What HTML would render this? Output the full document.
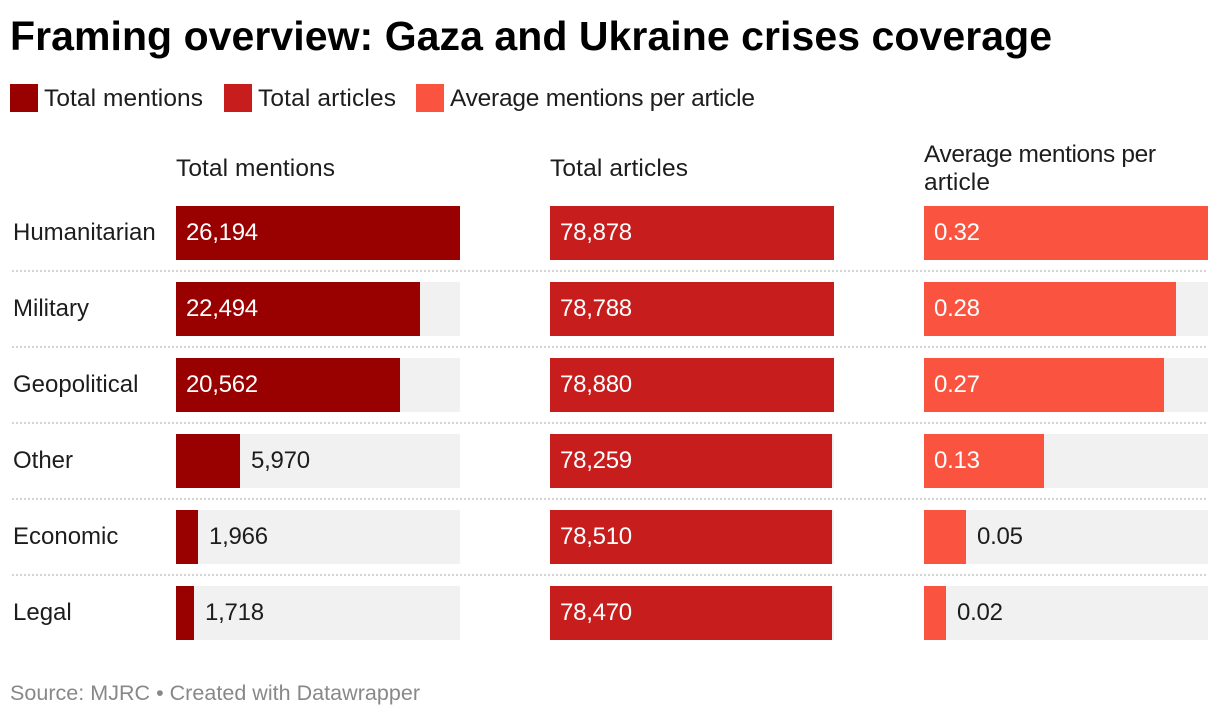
<!DOCTYPE html>
<html lang="en">
<head>
<meta charset="utf-8">
<title>Framing overview: Gaza and Ukraine crises coverage</title>
<style>
  html, body { margin: 0; padding: 0; background: #fff; }
  body { width: 1220px; height: 716px; overflow: hidden; }
  svg { display: block; font-family: "Liberation Sans", Arial, sans-serif; }
  text { fill: #1d1d1d; font-size: 24px; }
  .static-label { font-size: 24.5px; }
  .value-label { letter-spacing: -0.25px; }
</style>
</head>
<body>
<svg id="chart" xmlns="http://www.w3.org/2000/svg" width="1220" height="716" viewBox="0 0 1220 716">
  <text x="10" y="50" textLength="1042" lengthAdjust="spacing" style="font-size:41px;font-weight:700;fill:#000">Framing overview: Gaza and Ukraine crises coverage</text>

  <g>
    <g>
      <rect x="10" y="84" width="28" height="28" fill="#990000"></rect>
      <text class="static-label" x="44" y="106" textLength="159" lengthAdjust="spacing">Total mentions</text>
    </g>
    <g>
      <rect x="224" y="84" width="28" height="28" fill="#c71e1d"></rect>
      <text class="static-label" x="258" y="106" textLength="138" lengthAdjust="spacing">Total articles</text>
    </g>
    <g>
      <rect x="416" y="84" width="28" height="28" fill="#fa5441"></rect>
      <text class="static-label" x="450" y="106" textLength="305" lengthAdjust="spacing">Average mentions per article</text>
    </g>
  </g>

  <text class="static-label" x="176" y="176" textLength="159" lengthAdjust="spacing">Total mentions</text>
  <text class="static-label" x="550" y="176" textLength="138" lengthAdjust="spacing">Total articles</text>
  <text class="static-label" x="924" y="162" textLength="232" lengthAdjust="spacing">Average mentions per</text>
  <text class="static-label" x="924" y="190" textLength="66" lengthAdjust="spacing">article</text>

  <g id="rows"></g>

  <text x="10" y="700" textLength="410" lengthAdjust="spacing" style="font-size:21.5px;fill:#888888">Source: MJRC • Created with Datawrapper</text>
</svg>

<script>
const categories = ["Humanitarian", "Military", "Geopolitical", "Other", "Economic", "Legal"];
const totalMentions = [26194, 22494, 20562, 5970, 1966, 1718];
const totalArticles = [78878, 78788, 78880, 78259, 78510, 78470];
const averageMentions = [0.32, 0.284, 0.27, 0.1345, 0.047, 0.0248];

const NS = "http://www.w3.org/2000/svg";
const root = document.getElementById("rows");

const BAR_WIDTH = 284;
const BAR_HEIGHT = 54;
const ROW_TOP = 206;
const ROW_STEP = 76;

function rowY(i) { return ROW_TOP + i * ROW_STEP; }
function thousands(v) { return Math.round(v).toLocaleString("en-US"); }
function twoDecimals(v) { return v.toFixed(2); }
function scaleOf(values) {
  const max = Math.max.apply(null, values);
  return function (v) { return Math.round((v / max * BAR_WIDTH + 0.2) / 2) * 2; };
}

const columns = [
  { key: "total-mentions", x: 176, color: "#990000", values: totalMentions, format: thousands },
  { key: "total-articles", x: 550, color: "#c71e1d", values: totalArticles, format: thousands },
  { key: "average-mentions", x: 924, color: "#fa5441", values: averageMentions, format: twoDecimals }
];

function makeRect(x, y, w, h, fill) {
  const r = document.createElementNS(NS, "rect");
  r.setAttribute("x", x);
  r.setAttribute("y", y);
  r.setAttribute("width", w);
  r.setAttribute("height", h);
  r.setAttribute("fill", fill);
  return r;
}

categories.forEach(function (cat, i) {
  const y = rowY(i);
  const slug = cat.toLowerCase();

  const label = document.createElementNS(NS, "text");
  label.setAttribute("x", 13);
  label.setAttribute("y", y + 34);
  label.textContent = cat;
  
  
  root.appendChild(label);

  columns.forEach(function (col) {
    const scale = scaleOf(col.values);
    const value = col.values[i];
    const w = scale(value);

    const track = makeRect(col.x, y, BAR_WIDTH, BAR_HEIGHT, "#f1f1f1");
    
    
    root.appendChild(track);

    const bar = makeRect(col.x, y, w, BAR_HEIGHT, col.color);
    
    
    bar.setAttribute("data-series", col.key);
    bar.setAttribute("data-category", slug);
    root.appendChild(bar);

    const str = col.format(value);
    const inside = w > str.length * 12.5 + 20;
    const t = document.createElementNS(NS, "text");
    t.setAttribute("class", "value-label");
    t.setAttribute("x", inside ? col.x + 10 : col.x + w + 11);
    t.setAttribute("y", y + 34);
    t.style.fill = inside ? "#ffffff" : "#1d1d1d";
    t.textContent = str;
    
    
    root.appendChild(t);
  });

  if (i < categories.length - 1) {
    for (let dx = 12; dx < 1208; dx += 4) {
      const dot = makeRect(dx, y + 64, 2, 2, "#d4d4d4");
      
      
      root.appendChild(dot);
    }
  }
});
</script>
</body>
</html>
